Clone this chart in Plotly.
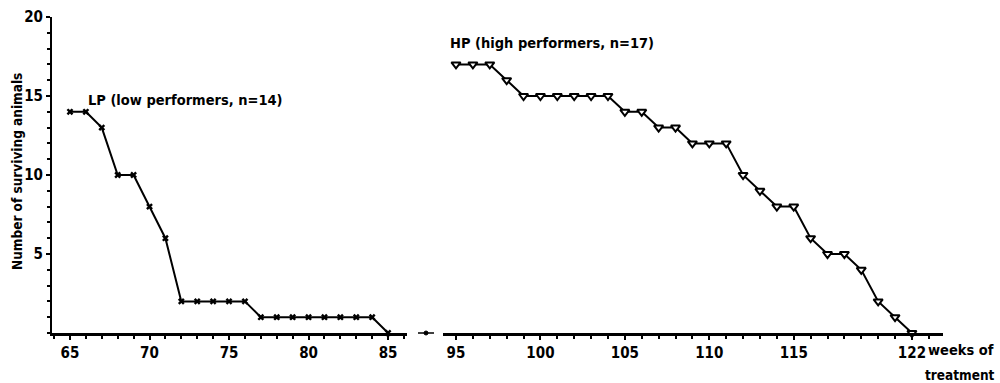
import plotly.graph_objects as go

# Data
lp_weeks = list(range(65, 86))
lp_surv = [14, 14, 13, 10, 10, 8, 6, 2, 2, 2, 2, 2, 1, 1, 1, 1, 1, 1, 1, 1, 0]
hp_weeks = list(range(95, 123))
hp_surv = [17, 17, 17, 16, 15, 15, 15, 15, 15, 15, 14, 14, 13, 13, 12, 12, 12,
           10, 9, 8, 8, 6, 5, 5, 4, 2, 1, 0]

left_ticks = [65, 70, 75, 80, 85]
right_ticks = [95, 100, 105, 110, 115, 122]
y_ticks = [5, 10, 15, 20]

lp_label = "LP (low performers, n=14)"
hp_label = "HP (high performers, n=17)"
y_title = "Number of surviving animals"

FONT = "DejaVu Sans Condensed"

W, H = 1000, 383
# target positions of the axes in the screenshot
AX_L, AX_R, AX_T, AX_B = 52, 943, 17, 333
ML, MT = AX_L, AX_T
MR, MB = W - AX_R, H - AX_B
PW = W - ML - MR
PH = H - MT - MB

def px(xpix):
    return (xpix - AX_L) / PW

def py(ypix):
    return (AX_B - ypix) / PH

fig = go.Figure()
fig.add_trace(go.Scatter(
    x=lp_weeks, y=lp_surv, mode="lines+markers", xaxis="x", yaxis="y",
    line=dict(color="black", width=2),
    marker=dict(symbol="x", size=6, color="black"),
    showlegend=False, cliponaxis=False))
fig.add_trace(go.Scatter(
    x=hp_weeks, y=hp_surv, mode="lines+markers", xaxis="x2", yaxis="y",
    line=dict(color="black", width=2),
    marker=dict(symbol="triangle-down", size=8, color="white",
                line=dict(color="black", width=2)),
    showlegend=False, cliponaxis=False))

left_split = px(407)
right_start = px(443)

axis_common = dict(
    showgrid=False, zeroline=False, showline=True, linecolor="black",
    linewidth=3, ticks="outside", ticklen=4, tickwidth=1.5, tickcolor="black",
    tickfont=dict(family=FONT, size=15, color="black", weight="bold"),
    tickmode="array", automargin=False,
    minor=dict(ticks="outside", ticklen=3, tickwidth=1.5, tickcolor="black",
               tickmode="linear", tick0=0, dtick=1),
)

fig.update_layout(
    width=W, height=H,
    margin=dict(l=ML, r=MR, t=MT, b=MB),
    paper_bgcolor="white", plot_bgcolor="white",
    xaxis=dict(domain=[0, left_split], range=[63.87, 86.19],
               tickvals=left_ticks, anchor="y", **axis_common),
    xaxis2=dict(domain=[right_start, 1], range=[94.23, 123.84],
                tickvals=right_ticks, anchor="y", **axis_common),
    yaxis=dict(range=[0, 20], anchor="x", showgrid=False, zeroline=False,
               showline=True, linecolor="black", linewidth=2, automargin=False,
               ticks="outside", ticklen=4, tickwidth=1.5, tickcolor="black",
               tickmode="array", tickvals=y_ticks,
               tickfont=dict(family=FONT, size=15, color="black", weight="bold"),
               minor=dict(ticks="outside", ticklen=3, tickwidth=1.5,
                          tickcolor="black", tickmode="linear", tick0=0, dtick=1)),
)

fig.add_annotation(text=lp_label, xref="paper", yref="paper",
                   x=px(86), y=py(100), xanchor="left", yanchor="middle",
                   showarrow=False,
                   font=dict(family=FONT, size=14.5, color="black", weight="bold"))
fig.add_annotation(text=hp_label, xref="paper", yref="paper",
                   x=px(448), y=py(43), xanchor="left", yanchor="middle",
                   showarrow=False,
                   font=dict(family=FONT, size=14.5, color="black", weight="bold"))
fig.add_annotation(text=y_title, xref="paper", yref="paper",
                   x=px(17), y=py(172), xanchor="center", yanchor="middle",
                   textangle=-90, showarrow=False,
                   font=dict(family=FONT, size=13.5, color="black", weight="bold"))
fig.add_annotation(text="weeks of", xref="paper", yref="paper",
                   x=px(961), y=py(350), xanchor="center", yanchor="middle",
                   showarrow=False,
                   font=dict(family=FONT, size=14.5, color="black", weight="bold"))
fig.add_annotation(text="treatment", xref="paper", yref="paper",
                   x=px(960), y=py(375), xanchor="center", yanchor="middle",
                   showarrow=False,
                   font=dict(family=FONT, size=13.5, color="black", weight="bold"))

# axis break mark
fig.add_shape(type="line", xref="paper", yref="paper",
              x0=px(418), x1=px(434), y0=0, y1=0,
              line=dict(color="black", width=1.5))
fig.add_shape(type="circle", xref="paper", yref="paper",
              x0=px(424), x1=px(428), y0=py(335), y1=py(331),
              fillcolor="black", line=dict(color="black", width=1))

fig.write_html(
    "out.html",
    config={"displayModeBar": False},
    post_script="document.body.style.margin='0';document.body.style.overflow='hidden';",
)
